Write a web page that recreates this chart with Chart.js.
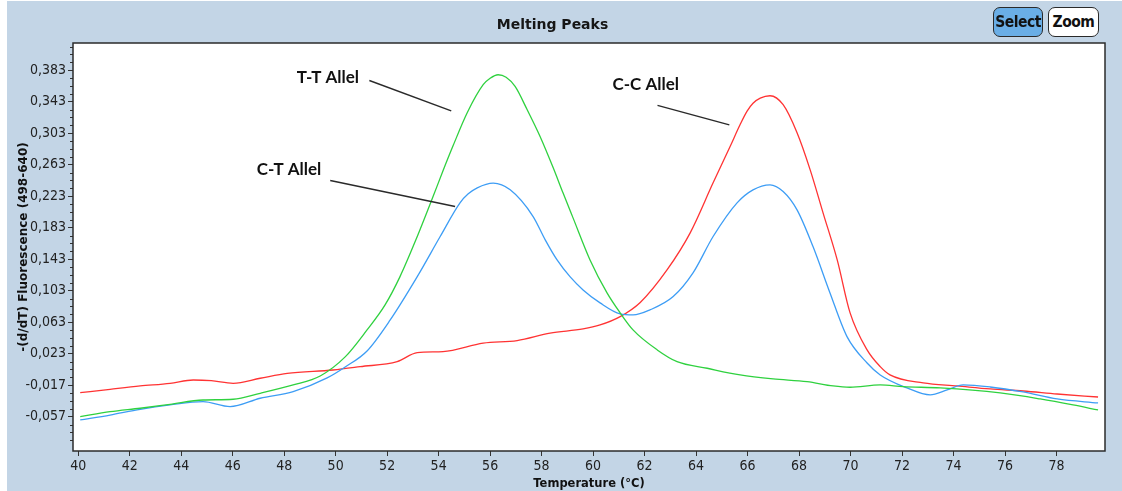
<!DOCTYPE html>
<html><head><meta charset="utf-8">
<script src="https://cdn.jsdelivr.net/npm/chart.js@4.4.1/dist/chart.umd.min.js"></script>
<style>
html,body{margin:0;padding:0;background:#fff;overflow:hidden;width:1122px;height:491px}
#bg{position:absolute;left:7px;top:1px;right:0;bottom:0;background:#c3d5e6}
#wrap{position:absolute;left:0;top:0;width:1122px;height:491px}
.btn{position:absolute;top:7px;height:30px;box-sizing:border-box;border:1.5px solid #2a2a2a;border-radius:7px;font:bold 15.5px 'DejaVu Sans Condensed','DejaVu Sans',sans-serif;letter-spacing:-0.5px;color:#111;display:flex;align-items:center;justify-content:center}
#sel{left:993px;width:50px;background:#6aaee6}
#zoom{left:1048px;width:51px;background:#fff}
</style></head><body>
<div id="bg"></div>
<div id="wrap"><canvas id="c" width="1122" height="491"></canvas></div>
<div class="btn" id="sel">Select</div><div class="btn" id="zoom">Zoom</div>
<script>
// ---- data (temperature °C, -(d/dT) fluorescence) ----
const ttTemps = [40.08,41.24,42.41,43.57,44.85,46.02,47.07,48.35,49.40,50.37,51.22,51.92,52.50,53.17,53.75,54.17,54.56,55.11,55.73,56.00,56.31,56.62,56.97,57.44,57.94,58.45,58.83,59.22,59.88,60.54,61.05,61.55,62.49,63.26,64.43,65.71,66.99,68.31,69.32,69.98,71.15,72.04,73.48,75.81,77.36,78.64,79.61];
const ttValues = [-0.0570,-0.0507,-0.0463,-0.0413,-0.0358,-0.0349,-0.0273,-0.0167,-0.0053,0.0189,0.0532,0.0850,0.1209,0.1718,0.2197,0.2553,0.2870,0.3290,0.3646,0.3728,0.3773,0.3741,0.3624,0.3328,0.2989,0.2591,0.2273,0.1955,0.1421,0.1002,0.0748,0.0532,0.0278,0.0129,0.0045,-0.0040,-0.0091,-0.0125,-0.0180,-0.0196,-0.0167,-0.0189,-0.0205,-0.0269,-0.0345,-0.0421,-0.0485];

const ctTemps = [40.08,41.24,42.41,43.57,44.85,45.90,47.07,48.35,49.67,50.37,51.22,52.12,53.17,54.06,54.83,55.15,55.50,56.12,56.78,57.67,58.14,58.60,59.11,59.61,60.27,61.05,61.55,62.21,63.11,63.88,64.66,65.59,66.21,66.87,67.38,67.92,68.54,69.20,69.86,70.64,71.15,72.19,73.09,73.75,74.37,75.42,76.70,78.02,79.61];
const ctValues = [-0.0612,-0.0549,-0.0476,-0.0421,-0.0380,-0.0443,-0.0336,-0.0252,-0.0078,0.0061,0.0265,0.0659,0.1209,0.1718,0.2146,0.2260,0.2337,0.2396,0.2311,0.1972,0.1676,0.1421,0.1205,0.1040,0.0875,0.0735,0.0722,0.0786,0.0955,0.1256,0.1718,0.2146,0.2311,0.2375,0.2290,0.2057,0.1590,0.1002,0.0447,0.0112,-0.0040,-0.0205,-0.0294,-0.0231,-0.0167,-0.0193,-0.0256,-0.0345,-0.0396];

const ccTemps = [40.08,41.24,42.41,43.57,44.47,45.17,46.02,47.07,48.12,49.90,50.95,52.39,53.17,54.17,55.73,57.05,58.33,59.61,60.27,61.05,61.83,62.87,63.77,64.66,65.32,65.71,65.98,66.21,66.49,66.87,67.38,67.92,68.43,68.93,69.48,69.98,70.64,71.15,71.53,72.82,74.14,75.42,76.70,78.02,79.61];
const ccValues = [-0.0265,-0.0222,-0.0180,-0.0146,-0.0104,-0.0113,-0.0146,-0.0082,-0.0019,0.0023,0.0065,0.0129,0.0243,0.0256,0.0363,0.0396,0.0490,0.0544,0.0595,0.0701,0.0881,0.1294,0.1765,0.2400,0.2861,0.3140,0.3310,0.3410,0.3475,0.3506,0.3392,0.3036,0.2565,0.2019,0.1421,0.0748,0.0278,0.0065,-0.0040,-0.0142,-0.0180,-0.0218,-0.0244,-0.0282,-0.0320];

const xTickValues = [40,42,44,46,48,50,52,54,56,58,60,62,64,66,68,70,72,74,76,78];
const yTickValues = [-0.057,-0.017,0.023,0.063,0.103,0.143,0.183,0.223,0.263,0.303,0.343,0.383];

const seriesNames = ['T-T Allel','C-T Allel','C-C Allel'];

// ---- annotation placement (data coordinates) ----
const annotations = [
  {text: seriesNames[0], at: [48.49, 0.3667], from: [51.31, 0.3700], to: [54.49, 0.3315]},
  {text: seriesNames[1], at: [46.94, 0.2502], from: [49.79, 0.2429], to: [54.64, 0.2099]},
  {text: seriesNames[2], at: [60.75, 0.3582], from: [62.50, 0.3383], to: [65.29, 0.3137]}
];

const pts = (t, v) => t.map((x, i) => ({x, y: v[i]}));
const tickFont = {family: "'DejaVu Sans Condensed','DejaVu Sans',sans-serif", size: 14};

const framePlugin = {
  id: 'frame',
  beforeDraw(chart) {
    const {ctx, chartArea: a} = chart;
    ctx.save();
    ctx.fillStyle = '#ffffff';
    ctx.fillRect(a.left, a.top, a.right - a.left, a.bottom - a.top);
    ctx.restore();
  },
  afterDraw(chart) {
    const {ctx, chartArea: a} = chart;
    const ys = chart.scales.y;
    ctx.save();
    // minor ticks on y axis (0.01 steps)
    ctx.strokeStyle = '#333';
    ctx.lineWidth = 1;
    for (let k = -5; k <= 50; k++) {
      const v = yTickValues[0] + 0.01 * k;
      if (v < ys.min || v > ys.max) continue;
      if (k % 4 === 0) continue;
      const py = Math.round(ys.getPixelForValue(v)) + 0.5;
      ctx.beginPath();
      ctx.moveTo(a.left - 3, py);
      ctx.lineTo(a.left, py);
      ctx.stroke();
    }
    ctx.strokeStyle = '#2b2b2b';
    ctx.lineWidth = 1.5;
    ctx.strokeRect(a.left, a.top, a.right - a.left, a.bottom - a.top);
    ctx.restore();
  },
  afterDatasetsDraw(chart) {
    const {ctx} = chart;
    const xs = chart.scales.x, ys = chart.scales.y;
    ctx.save();
    ctx.font = "bold 17px Lato, 'Open Sans', sans-serif";
    ctx.fillStyle = '#111';
    ctx.textBaseline = 'alphabetic';
    ctx.textAlign = 'left';
    ctx.strokeStyle = '#2a2a2a';
    ctx.lineWidth = 1.4;
    annotations.forEach(a => {
      ctx.fillText(a.text, xs.getPixelForValue(a.at[0]), ys.getPixelForValue(a.at[1]));
      ctx.beginPath();
      ctx.moveTo(xs.getPixelForValue(a.from[0]), ys.getPixelForValue(a.from[1]));
      ctx.lineTo(xs.getPixelForValue(a.to[0]), ys.getPixelForValue(a.to[1]));
      ctx.stroke();
    });
    ctx.restore();
  }
};

const lineStyle = {borderWidth: 1.3, pointRadius: 0, fill: false, cubicInterpolationMode: 'monotone'};

new Chart(document.getElementById('c'), {
  type: 'line',
  data: {
    datasets: [
      {label: seriesNames[0], data: pts(ttTemps, ttValues), borderColor: '#2fd13f', ...lineStyle},
      {label: seriesNames[1], data: pts(ctTemps, ctValues), borderColor: '#3d9df5', ...lineStyle},
      {label: seriesNames[2], data: pts(ccTemps, ccValues), borderColor: '#ff3333', ...lineStyle}
    ]
  },
  options: {
    responsive: false,
    animation: false,
    layout: {padding: {left: 0, right: 17, top: 0, bottom: 0}},
    plugins: {
      legend: {display: false},
      tooltip: {enabled: false},
      title: {display: true, text: 'Melting Peaks', color: '#161616',
        font: {family: "'DejaVu Sans', sans-serif", size: 14, weight: 'bold'},
        padding: {top: 17, bottom: 9.2}}
    },
    scales: {
      x: {
        type: 'linear', min: 39.8, max: 79.88,
        afterBuildTicks: s => { s.ticks = xTickValues.map(v => ({value: v})); },
        afterFit: s => { s.height = 40; },
        grid: {drawOnChartArea: false, drawTicks: true, tickLength: 5, tickColor: '#333'},
        border: {display: false},
        ticks: {color: '#222', font: tickFont, padding: 2, maxRotation: 0, autoSkip: false, callback: v => String(v)},
        title: {display: true, text: 'Temperature (°C)', color: '#111',
          font: {family: "'DejaVu Sans', sans-serif", size: 11.5, weight: 'bold'}, padding: {top: 0, bottom: 0}}
      },
      y: {
        type: 'linear', min: -0.1006, max: 0.4176,
        afterBuildTicks: s => { s.ticks = yTickValues.map(v => ({value: v})); },
        afterFit: s => { s.width = 73; },
        grid: {drawOnChartArea: false, drawTicks: true, tickLength: 5, tickColor: '#333'},
        border: {display: false},
        ticks: {color: '#222', font: tickFont, padding: 2, autoSkip: false, callback: v => v.toFixed(3).replace('.', ',')},
        title: {display: true, text: '-(d/dT) Fluorescence (498-640)', color: '#111',
          font: {family: "'DejaVu Sans', sans-serif", size: 12, weight: 'bold'}, padding: {top: 17, bottom: 0}}
      }
    }
  },
  plugins: [framePlugin]
});
</script></body></html>
